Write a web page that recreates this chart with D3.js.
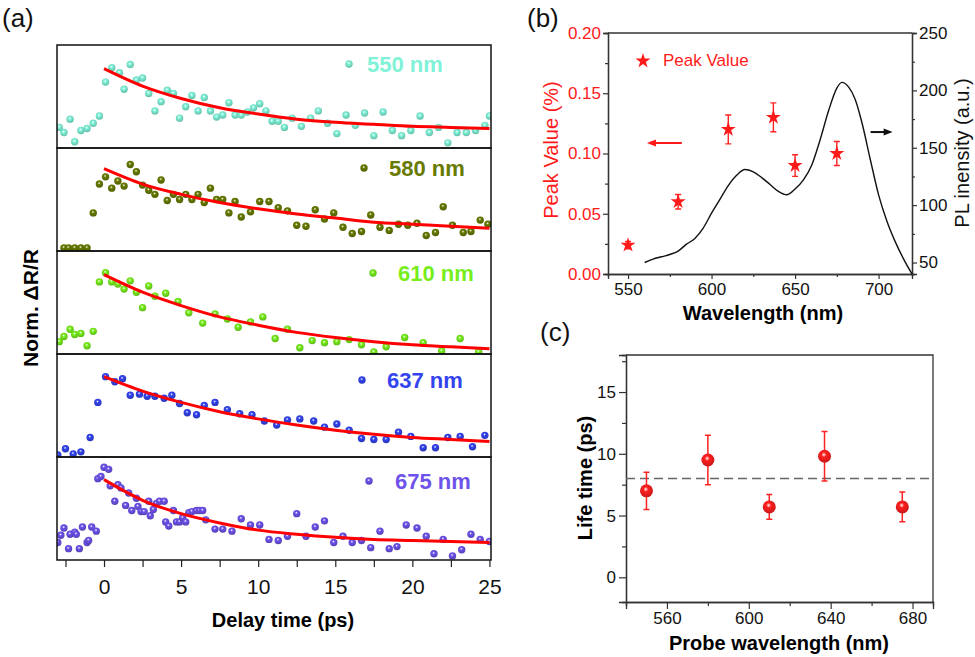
<!DOCTYPE html>
<html>
<head>
<meta charset="utf-8">
<script src="https://cdn.jsdelivr.net/npm/d3@7"></script>
<style>
  body { margin: 0; background: #fff; }
  svg { font-family: "Liberation Sans", Arial, sans-serif; }
</style>
</head>
<body>
<script>
// ---- (a) transient reflectance, normalised, one trace per probe wavelength
const probes = ['550 nm', '580 nm', '610 nm', '637 nm', '675 nm'];
const probeColors = ['#7ff2d8', '#687a00', '#77ee1c', '#3344ee', '#6e52ea'];

const t550 = [-2.9,-2.6,-2.2,-1.9,-1.5,-1.1,-0.7,-0.3,0.1,0.5,1.0,1.3,1.7,2.1,2.5,2.9,3.3,3.7,4.1,4.5,4.9,5.3,5.7,6.1,6.5,6.9,7.3,7.7,8.1,8.5,8.9,9.3,9.7,10.1,10.5,10.9,11.3,11.7,12.2,12.8,13.4,13.9,14.5,15.1,15.7,16.3,16.9,17.5,18.1,18.7,19.3,19.9,20.5,21.1,21.7,22.3,22.9,23.5,24.1,24.7,25.0];
const y550 = [0.20,0.15,0.28,0.06,0.17,0.19,0.24,0.31,0.64,0.78,0.73,0.57,0.81,0.66,0.68,0.53,0.36,0.45,0.56,0.53,0.29,0.40,0.51,0.36,0.49,0.36,0.30,0.32,0.44,0.32,0.32,0.35,0.39,0.43,0.36,0.26,0.26,0.20,0.29,0.21,0.29,0.36,0.24,0.14,0.32,0.22,0.34,0.12,0.35,0.17,0.12,0.17,0.31,0.15,0.20,0.05,0.15,0.15,0.17,0.22,0.31];

const t580 = [-2.6,-2.3,-1.9,-1.5,-1.1,-0.7,-0.3,0.1,0.5,0.9,1.3,1.7,2.1,2.5,2.9,3.3,3.7,4.1,4.5,4.9,5.3,5.7,6.1,6.5,6.9,7.3,7.7,8.1,8.5,8.9,9.5,10.1,10.7,11.3,11.9,12.5,13.1,13.7,14.3,14.9,15.5,16.1,16.7,17.3,17.9,18.5,19.1,19.7,20.3,20.9,21.5,22.0,22.6,23.3,23.8,24.4,24.9];
const y580 = [0.03,0.03,0.03,0.03,0.03,0.37,0.65,0.72,0.61,0.68,0.63,0.84,0.77,0.64,0.59,0.55,0.69,0.49,0.55,0.50,0.55,0.50,0.55,0.47,0.61,0.50,0.50,0.37,0.48,0.33,0.38,0.48,0.48,0.42,0.39,0.25,0.24,0.40,0.31,0.37,0.23,0.17,0.19,0.35,0.23,0.20,0.26,0.25,0.27,0.15,0.18,0.43,0.25,0.18,0.19,0.30,0.26];

const t610 = [-2.9,-2.6,-2.2,-1.9,-1.5,-1.1,-0.7,-0.3,0.1,0.5,0.9,1.3,1.7,2.1,2.5,2.9,3.3,4.0,4.8,5.5,6.4,7.2,8.0,8.7,9.5,10.3,11.1,11.9,12.7,13.5,14.3,15.1,15.9,16.7,17.5,18.3,19.5,20.7,21.9,23.1,24.3];
const y610 = [0.12,0.17,0.24,0.19,0.20,0.08,0.22,0.70,0.79,0.70,0.68,0.63,0.71,0.60,0.45,0.66,0.56,0.59,0.51,0.40,0.30,0.39,0.34,0.26,0.31,0.36,0.15,0.24,0.06,0.13,0.11,0.12,0.14,0.09,0.02,0.07,0.16,0.11,0.03,0.15,0.02];

const t637 = [-3.0,-2.5,-2.0,-1.5,-0.9,-0.4,0.1,0.7,1.2,1.7,2.3,2.8,3.3,3.9,4.4,4.9,5.4,6.0,6.5,7.2,8.0,8.8,9.6,10.4,11.2,11.9,12.7,13.6,14.3,15.1,15.9,16.7,17.5,18.3,19.1,19.9,20.7,21.5,22.3,23.1,23.9,24.7];
const y637 = [0.02,0.08,0.03,0.05,0.19,0.53,0.78,0.73,0.76,0.60,0.61,0.59,0.59,0.57,0.60,0.52,0.43,0.41,0.50,0.53,0.46,0.42,0.41,0.35,0.31,0.36,0.37,0.35,0.29,0.32,0.26,0.18,0.17,0.17,0.24,0.20,0.09,0.09,0.19,0.20,0.10,0.21];

const t675 = [-3.0,-2.8,-2.6,-2.3,-2.2,-1.9,-1.8,-1.6,-1.4,-1.1,-1.0,-0.8,-0.5,-0.4,-0.2,0.0,0.3,0.4,0.7,0.9,1.1,1.4,1.6,1.8,2.1,2.2,2.4,2.6,2.9,3.0,3.2,3.4,3.6,3.9,4.0,4.2,4.5,4.7,4.9,5.1,5.3,5.5,5.7,6.0,6.2,6.4,6.6,7.2,7.7,8.3,8.9,9.5,10.1,10.7,11.3,11.9,12.5,13.1,13.7,14.3,14.9,15.5,16.1,16.7,17.3,17.9,18.5,19.0,19.6,20.3,20.9,21.4,22.0,22.6,23.2,23.8,24.4,25.0];
const y675 = [0.17,0.24,0.31,0.11,0.25,0.27,0.25,0.11,0.32,0.17,0.19,0.32,0.28,0.79,0.81,0.90,0.88,0.72,0.57,0.73,0.70,0.53,0.65,0.48,0.60,0.52,0.47,0.47,0.57,0.43,0.49,0.55,0.57,0.57,0.37,0.33,0.48,0.37,0.37,0.41,0.37,0.46,0.47,0.48,0.48,0.48,0.39,0.30,0.30,0.28,0.40,0.34,0.34,0.20,0.19,0.23,0.45,0.23,0.32,0.38,0.17,0.23,0.17,0.19,0.12,0.28,0.11,0.13,0.34,0.31,0.23,0.06,0.20,0.04,0.10,0.25,0.20,0.18];

// exponential fits
const fitT   = [0, 2.5, 5, 7.5, 10, 12.5, 15, 17.5, 20, 22.5, 25];
const fit550 = [0.77,0.60,0.48,0.39,0.33,0.28,0.25,0.23,0.21,0.20,0.19];
const fit580 = [0.80,0.65,0.55,0.47,0.41,0.36,0.32,0.28,0.26,0.24,0.22];
const fit610 = [0.77,0.60,0.47,0.36,0.28,0.21,0.16,0.12,0.09,0.07,0.05];
const fit637 = [0.78,0.64,0.53,0.44,0.37,0.31,0.26,0.22,0.19,0.17,0.15];
const fit675 = [0.78,0.58,0.45,0.36,0.29,0.25,0.22,0.20,0.19,0.18,0.17];

const delayTicks = [-2.5, 0, 2.5, 5, 7.5, 10, 12.5, 15, 17.5, 20, 22.5, 25];

// ---- (b) peak value + PL spectrum
const peakWl  = [550, 580, 610, 637, 650, 675];
const peakVal = [0.024, 0.060, 0.120, 0.130, 0.090, 0.100];
const peakErr = [0.003, 0.006, 0.012, 0.012, 0.009, 0.010];

const plWl  = [560,565,570,575,580,585,590,595,600,605,610,615,620,625,630,635,640,645,650,655,660,665,670,675,678,682,686,690,695,700,705,710,715,720];
const plInt = [50,53,55,57,60,66,71,80,93,105,117,126,131,129,124,118,112,109,114,122,135,157,182,202,207,203,192,172,140,109,86,68,53,40];

// ---- (c) life time vs probe wavelength
const lifeWl  = [550, 580, 610, 637, 675];
const lifeVal = [7.0, 9.5, 5.7, 9.8, 5.7];
const lifeLo  = [5.5, 7.5, 4.7, 7.8, 4.5];
const lifeHi  = [8.5, 11.5, 6.7, 11.8, 6.9];
const lifeMean = 8.0;

const width = 975, height = 657;
const svg = d3.select('body').append('svg')
  .attr('width', width).attr('height', height);
const defs = svg.append('defs');

function sphere(id, color) {
  const g = defs.append('radialGradient').attr('id', id)
    .attr('cx', '45%').attr('cy', '38%').attr('r', '62%');
  g.append('stop').attr('offset', '0%').attr('stop-color', '#fff');
  g.append('stop').attr('offset', '30%').attr('stop-color', color);
  g.append('stop').attr('offset', '100%').attr('stop-color', d3.color(color).darker(0.7));
}

// ======================= (a) =======================
const xA = d3.scaleLinear().domain([-3.05, 25.1]).range([57, 491]);
const aTop = 45, aH = 103;
const tData = [t550, t580, t610, t637, t675];
const yData = [y550, y580, y610, y637, y675];
const fits  = [fit550, fit580, fit610, fit637, fit675];
// legend placement inside each strip
const legDotX = [349, 364, 373, 362, 369];
const legTxtX = [367, 389, 398, 387, 395];
const legDy   = [19, 20, 22, 26, 24];

probes.forEach((name, i) => {
  const top = aTop + i * aH;
  const yA = d3.scaleLinear().domain([0, 1]).range([top + aH, top]);
  sphere('sp' + i, probeColors[i]);

  defs.append('clipPath').attr('id', 'clipA' + i)
    .append('rect').attr('x', xA.range()[0]).attr('y', top)
    .attr('width', xA.range()[1] - xA.range()[0]).attr('height', aH);

  const g = svg.append('g').attr('clip-path', `url(#clipA${i})`);
  g.selectAll('circle')
    .data(d3.zip(tData[i], yData[i]))
    .join('circle')
    .attr('cx', d => xA(d[0]))
    .attr('cy', d => yA(d[1]))
    .attr('r', 3.7)
    .attr('fill', `url(#sp${i})`);

  g.append('path')
    .datum(d3.zip(fitT, fits[i]))
    .attr('d', d3.line().x(d => xA(d[0])).y(d => yA(d[1])).curve(d3.curveMonotoneX))
    .attr('fill', 'none')
    .attr('stroke', '#ff0000')
    .attr('stroke-width', 3);

  svg.append('circle')
    .attr('cx', legDotX[i]).attr('cy', top + legDy[i])
    .attr('r', 3.7).attr('fill', `url(#sp${i})`);
  svg.append('text')
    .attr('x', legTxtX[i]).attr('y', top + legDy[i] + 8)
    .attr('font-size', 22).attr('font-weight', 'bold')
    .attr('fill', probeColors[i])
    .text(name);

  svg.append('rect')
    .attr('x', xA.range()[0]).attr('y', top)
    .attr('width', xA.range()[1] - xA.range()[0]).attr('height', aH)
    .attr('fill', 'none').attr('stroke', '#111').attr('stroke-width', 1.5);
});

const axA = svg.append('g')
  .attr('transform', `translate(0,${aTop + 5 * aH})`)
  .call(d3.axisBottom(xA).tickValues(delayTicks)
    .tickFormat(d => d % 5 === 0 ? d : '')
    .tickSize(7).tickPadding(12));
axA.select('.domain').remove();
axA.selectAll('line').attr('stroke', '#222').attr('stroke-width', 1.2);
axA.selectAll('text').attr('font-size', 21).attr('font-family', '"Liberation Sans", Arial').attr('fill', '#111');

svg.append('text')
  .attr('x', 283).attr('y', 627)
  .attr('text-anchor', 'middle')
  .attr('font-size', 20).attr('font-weight', 'bold')
  .text('Delay time (ps)');
svg.append('text')
  .attr('transform', 'translate(38,308) rotate(-90)')
  .attr('text-anchor', 'middle')
  .attr('font-size', 21).attr('font-weight', 'bold')
  .text('Norm. ΔR/R');

// ======================= (b) =======================
const bL = 608, bR = 912, bT = 33, bB = 274;
const xB = d3.scaleLinear().domain([538, 720]).range([bL, bR]);
const yBL = d3.scaleLinear().domain([0, 0.2]).range([bB, bT]);
const yBR = d3.scaleLinear().domain([40, 250]).range([bB, bT]);

function styleAxis(sel, color) {
  sel.selectAll('.domain').attr('stroke', '#333').attr('stroke-width', 1.3);
  sel.selectAll('line').attr('stroke', '#333').attr('stroke-width', 1.2);
  sel.selectAll('text').attr('font-size', 17)
    .attr('font-family', '"Liberation Sans", Arial')
    .attr('fill', color);
}

styleAxis(svg.append('g').attr('transform', `translate(0,${bB})`)
  .call(d3.axisBottom(xB).tickValues([575, 625, 675]).tickFormat('').tickSize(3)), '#111');
styleAxis(svg.append('g').attr('transform', `translate(0,${bB})`)
  .call(d3.axisBottom(xB).tickValues([550, 600, 650, 700]).tickSize(5).tickPadding(4)), '#111');
styleAxis(svg.append('g').attr('transform', `translate(${bL},0)`)
  .call(d3.axisLeft(yBL).tickValues([0.025, 0.075, 0.125, 0.175]).tickFormat('').tickSize(3)), '#111');
styleAxis(svg.append('g').attr('transform', `translate(${bL},0)`)
  .call(d3.axisLeft(yBL).tickValues([0, 0.05, 0.1, 0.15, 0.2]).tickFormat(d3.format('.2f')).tickSize(5).tickPadding(2)), '#ff1a1a');
styleAxis(svg.append('g').attr('transform', `translate(${bR},0)`)
  .call(d3.axisRight(yBR).tickValues([75, 125, 175, 225]).tickFormat('').tickSize(3)), '#111');
styleAxis(svg.append('g').attr('transform', `translate(${bR},0)`)
  .call(d3.axisRight(yBR).tickValues([50, 100, 150, 200, 250]).tickSize(5).tickPadding(2)), '#111');
svg.append('line').attr('x1', bL).attr('x2', bR).attr('y1', bT).attr('y2', bT)
  .attr('stroke', '#333').attr('stroke-width', 1.3);

svg.append('path')
  .datum(d3.zip(plWl, plInt))
  .attr('d', d3.line().x(d => xB(d[0])).y(d => yBR(d[1])).curve(d3.curveMonotoneX))
  .attr('fill', 'none').attr('stroke', '#111').attr('stroke-width', 1.4);

const star = d3.symbol().type(d3.symbolStar).size(70);
const gPeak = svg.append('g');
peakWl.forEach((w, i) => {
  const cx = xB(w), lo = yBL(peakVal[i] - peakErr[i]), hi = yBL(peakVal[i] + peakErr[i]);
  gPeak.append('path')
    .attr('d', `M${cx},${lo}V${hi}M${cx - 3},${lo}H${cx + 3}M${cx - 3},${hi}H${cx + 3}`)
    .attr('stroke', '#ff2222').attr('stroke-width', 1.4).attr('fill', 'none');
  gPeak.append('path')
    .attr('d', star)
    .attr('transform', `translate(${cx},${yBL(peakVal[i])})`)
    .attr('fill', '#ff1a1a');
});

svg.append('path').attr('d', star).attr('transform', 'translate(643,61)').attr('fill', '#ff1a1a');
svg.append('text').attr('x', 663).attr('y', 66)
  .attr('font-size', 17).attr('fill', '#ff1a1a').text('Peak Value');

// direction arrows
function arrow(x1, x2, y, color) {
  const dir = Math.sign(x2 - x1);
  svg.append('line').attr('x1', x1).attr('x2', x2 - dir * 6).attr('y1', y).attr('y2', y)
    .attr('stroke', color).attr('stroke-width', 2);
  svg.append('path')
    .attr('d', `M${x2},${y}L${x2 - dir * 9},${y - 3.5}L${x2 - dir * 9},${y + 3.5}Z`)
    .attr('fill', color);
}
arrow(xB(582.2), xB(561.3), yBL(0.1087), '#ff1a1a');
arrow(xB(695.2), xB(708.4), yBR(163.7), '#111');

svg.append('text')
  .attr('x', 763).attr('y', 320)
  .attr('text-anchor', 'middle')
  .attr('font-size', 20).attr('font-weight', 'bold')
  .text('Wavelength (nm)');
svg.append('text')
  .attr('transform', 'translate(558,150) rotate(-90)')
  .attr('text-anchor', 'middle')
  .attr('font-size', 20).attr('fill', '#ff1a1a')
  .text('Peak Value (%)');
svg.append('text')
  .attr('transform', 'translate(969,153) rotate(-90)')
  .attr('text-anchor', 'middle')
  .attr('font-size', 20).attr('fill', '#111')
  .text('PL inensity (a.u.)');

// ======================= (c) =======================
const cL = 626, cR = 933, cT = 355, cB = 602;
const xC = d3.scaleLinear().domain([540, 690]).range([cL, cR]);
const yC = d3.scaleLinear().domain([-2, 18]).range([cB, cT]);

styleAxis(svg.append('g').attr('transform', `translate(0,${cB})`)
  .call(d3.axisBottom(xC).tickValues([540, 580, 620, 660]).tickFormat('').tickSize(4)), '#111');
styleAxis(svg.append('g').attr('transform', `translate(0,${cB})`)
  .call(d3.axisBottom(xC).tickValues([560, 600, 640, 680]).tickSize(7).tickPadding(3)), '#111');
styleAxis(svg.append('g').attr('transform', `translate(${cL},0)`)
  .call(d3.axisLeft(yC).tickValues([2.5, 7.5, 12.5, 17.5]).tickFormat('').tickSize(4)), '#111');
styleAxis(svg.append('g').attr('transform', `translate(${cL},0)`)
  .call(d3.axisLeft(yC).tickValues([0, 5, 10, 15]).tickSize(7).tickPadding(3)), '#111');
svg.append('path')
  .attr('d', `M${cL},${cT}H${cR}V${cB}`)
  .attr('fill', 'none').attr('stroke', '#333').attr('stroke-width', 1.3);

svg.append('line')
  .attr('x1', cL).attr('x2', cR)
  .attr('y1', yC(lifeMean)).attr('y2', yC(lifeMean))
  .attr('stroke', '#666').attr('stroke-width', 1.5)
  .attr('stroke-dasharray', '9,5');

sphere('spRed', '#ff1f1f');
lifeWl.forEach((w, i) => {
  const cx = xC(w), lo = yC(lifeLo[i]), hi = yC(lifeHi[i]);
  svg.append('path')
    .attr('d', `M${cx},${lo}V${hi}M${cx - 3},${lo}H${cx + 3}M${cx - 3},${hi}H${cx + 3}`)
    .attr('stroke', '#ff2222').attr('stroke-width', 1.5).attr('fill', 'none');
  svg.append('circle')
    .attr('cx', cx).attr('cy', yC(lifeVal[i])).attr('r', 6.5)
    .attr('fill', 'url(#spRed)');
});

svg.append('text')
  .attr('x', 779).attr('y', 650)
  .attr('text-anchor', 'middle')
  .attr('font-size', 20).attr('font-weight', 'bold')
  .text('Probe wavelength (nm)');
svg.append('text')
  .attr('transform', 'translate(592,478) rotate(-90)')
  .attr('text-anchor', 'middle')
  .attr('font-size', 20).attr('font-weight', 'bold')
  .text('Life time (ps)');

// panel letters
[['(a)', 2, 27], ['(b)', 527, 27], ['(c)', 540, 341]].forEach(([s, x, y]) => {
  svg.append('text').attr('x', x).attr('y', y)
    .attr('font-size', 26).attr('fill', '#111').text(s);
});
</script>
</body>
</html>
